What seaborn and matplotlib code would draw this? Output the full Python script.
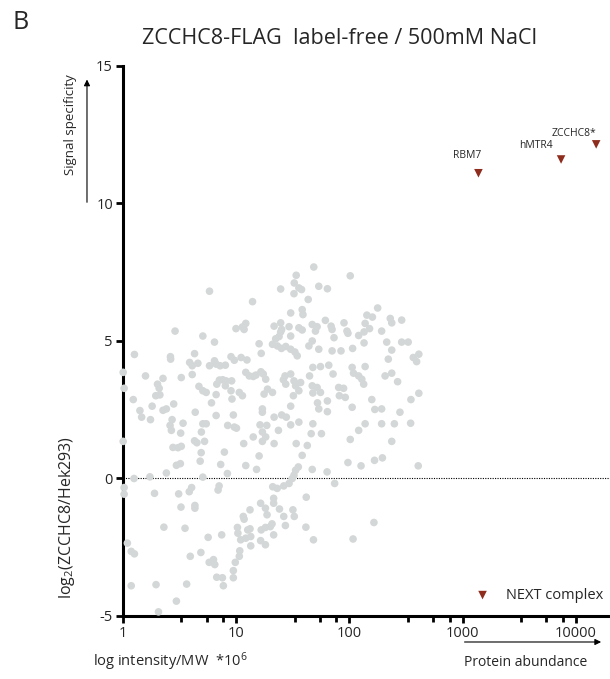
import numpy as np
import matplotlib
matplotlib.use("Agg")
import matplotlib.pyplot as plt
import seaborn as sns
from matplotlib.ticker import FixedLocator, NullFormatter

# background proteins: intensity/MW (*10^6) and log2(ZCCHC8/Hek293)
intensity = [
    48.6, 34.0, 32.7, 35.9, 37.9, 32.5, 102, 53.8, 64.1, 24.8, 5.84, 43.4, 14.0, 38.4, 39.0, 30.4,
    178, 143, 160, 89.8, 138, 61.5, 69.1, 70.5, 230, 237, 290, 24.8, 21.7, 25.3, 29.4, 35.9,
    38.4, 47.1, 52.0, 50.3, 12.2, 11.4, 10.0, 11.8, 2.90, 5.10, 6.46, 24.0, 24.8, 22.4, 30.4, 95.4,
    97.3, 121, 135, 151, 193, 73.3, 47.1, 44.0, 53.8, 70.5, 84.5, 107, 214, 290, 331, 237,
    16.0, 16.7, 21.0, 23.2, 25.2, 27.5, 30.4, 33.1, 34.7, 1.27, 2.64, 2.65, 4.31, 3.90, 4.11, 4.61,
    5.84, 6.46, 6.68, 7.24, 8.06, 9.04, 9.67, 11.1, 12.5, 367, 411, 393, 221, 65.9, 55.7, 47.7,
    106, 138, 109, 121, 129, 134, 1.01, 1.03, 1.59, 2.27, 3.29, 4.11, 2.03, 2.10, 1.96, 2.13,
    2.27, 2.43, 2.82, 4.71, 5.10, 5.46, 6.77, 7.14, 7.64, 8.17, 8.06, 9.16, 12.2, 13.1, 14.2, 15.0,
    16.6, 17.4, 18.3, 27.1, 26.2, 27.5, 30.4, 32.5, 37.2, 33.6, 44.6, 47.1, 52.0, 55.7, 71.9, 80.6,
    89.1, 92.2, 81.7, 207, 237, 267, 1.24, 1.42, 1.47, 1.76, 1.82, 2.73, 2.62, 2.69, 3.25, 3.41,
    2.78, 3.08, 3.29, 2.98, 3.23, 4.37, 4.31, 4.52, 5.28, 4.93, 4.83, 5.10, 5.10, 5.46, 6.08, 6.68,
    7.90, 8.45, 9.67, 10.1, 9.48, 9.22, 9.04, 10.7, 11.4, 11.7, 12.2, 15.2, 14.2, 16.0, 17.1, 17.1,
    16.3, 18.7, 17.1, 18.3, 17.1, 21.7, 17.7, 19.0, 21.0, 21.7, 25.3, 27.8, 30.4, 23.7, 30.4, 35.9,
    34.0, 38.4, 35.5, 33.6, 32.5, 31.4, 29.4, 42.6, 46.1, 47.7, 56.8, 52.4, 53.8, 64.1, 64.1, 47.1,
    63.7, 74.3, 47.7, 102, 121, 138, 193, 250, 348, 97.3, 127, 167, 196, 158, 193, 237,
    280, 350, 406, 1.26, 1.74, 2.43, 35.9, 32.1, 6.68, 135, 1.01, 4.95, 7.33, 8.40, 411, 106,
    168,
    # below zero
    1.03, 1.03, 1.91, 3.12, 3.87, 4.06, 6.95, 7.10, 3.27, 4.34, 4.34, 2.31, 3.55, 5.68, 7.48, 1.10,
    1.19, 1.27, 3.95, 4.90, 5.80, 6.33, 6.50, 1.19, 1.97, 3.67, 6.76, 7.59, 7.74, 2.98, 2.07, 9.48,
    9.48, 9.86, 10.7, 10.8, 10.3, 10.4, 11.6, 11.8, 13.3, 11.0, 12.2, 13.3, 13.5, 13.5, 12.7, 16.5,
    18.2, 18.8, 21.5, 21.5, 24.2, 26.4, 16.7, 18.2, 20.1, 20.8, 21.5, 16.5, 18.2, 27.3, 21.1, 23.1,
    26.4, 41.7, 31.8, 32.7, 41.4, 48.3, 108, 165,
]
log2ratio = [
    7.69, 7.39, 7.11, 6.93, 6.87, 6.72, 7.37, 6.99, 6.90, 6.89, 6.81, 6.51, 6.43, 6.14, 5.96, 6.02,
    6.20, 5.94, 5.87, 5.66, 5.64, 5.75, 5.54, 5.42, 5.82, 5.66, 5.76, 5.66, 5.54, 5.42, 5.52, 5.48,
    5.40, 5.60, 5.52, 5.36, 5.64, 5.51, 5.45, 5.42, 5.36, 5.18, 4.96, 5.16, 5.33, 5.08, 5.18, 5.36,
    5.28, 5.20, 5.33, 5.45, 5.36, 5.12, 5.00, 4.82, 4.70, 4.64, 4.64, 4.73, 4.96, 4.96, 4.96, 4.67,
    4.90, 4.55, 4.88, 4.82, 4.73, 4.80, 4.70, 4.60, 4.46, 4.51, 4.43, 4.34, 4.54, 4.22, 4.10, 4.19,
    4.10, 4.28, 4.16, 4.10, 4.12, 4.43, 4.30, 4.40, 4.31, 4.40, 4.52, 4.25, 4.34, 4.12, 4.07, 4.04,
    4.04, 4.07, 3.83, 3.73, 3.61, 3.43, 3.86, 3.28, 3.73, 3.64, 3.67, 3.78, 3.43, 3.28, 3.01, 3.04,
    2.48, 2.53, 2.71, 3.35, 3.19, 3.13, 3.43, 3.58, 3.59, 3.55, 3.37, 3.55, 3.86, 3.73, 3.71, 3.76,
    3.88, 3.80, 3.61, 3.73, 3.59, 3.43, 3.80, 3.55, 3.49, 3.37, 3.73, 3.37, 3.31, 3.13, 3.80, 3.31,
    3.28, 2.95, 3.01, 3.73, 3.83, 3.52, 2.87, 2.47, 2.23, 2.14, 2.63, 2.14, 1.93, 1.75, 1.65, 2.01,
    1.13, 1.12, 1.17, 0.48, 0.54, 2.41, 1.37, 1.30, 1.35, 0.94, 0.63, 0.05, 1.99, 1.99, 2.75, 2.29,
    0.96, 1.93, 1.87, 1.83, 2.31, 2.89, 3.19, 3.13, 3.01, 1.27, 0.47, 0.33, 1.51, 0.82, 2.53, 2.41,
    1.95, 1.93, 1.69, 1.51, 1.35, 1.27, 3.07, 3.25, 3.13, 2.23, 2.31, 2.23, 1.95, 1.75, 2.63, 2.05,
    1.27, 0.84, 0.42, 0.30, 0.12, 0.00, -0.18, 1.20, 1.63, 1.99, 1.63, 2.75, 2.53, 2.82, 2.43, 0.33,
    0.24, -0.18, 3.11, 1.42, 1.75, 1.99, 1.99, 1.99, 2.01, 0.58, 0.46, 0.66, 0.75, 2.87, 2.53, 1.35,
    2.41, 2.87, 0.46, 0.00, 0.06, 0.20, 3.19, 3.01, 3.05, 4.93, 1.35, 1.69, 0.51, 0.18, 3.10, 2.59,
    2.51,
    -0.33, -0.57, -0.54, -0.56, -0.48, -0.33, -0.42, -0.27, -1.04, -0.98, -1.08, -1.77, -1.81, -2.14, -2.05, -2.35,
    -2.65, -2.74, -2.83, -2.69, -3.05, -2.95, -3.13, -3.90, -3.86, -3.84, -3.59, -3.61, -3.90, -4.46, -4.85, -3.35,
    -3.61, -3.05, -2.83, -2.63, -1.78, -1.99, -1.38, -1.48, -1.14, -2.23, -2.17, -1.83, -2.11, -2.45, -1.87, -0.90,
    -1.08, -1.32, -0.72, -0.90, -1.11, -1.38, -1.87, -1.78, -1.75, -1.65, -2.05, -2.26, -2.41, -1.71, -0.30, -0.36,
    -0.27, -0.68, -1.14, -1.38, -1.77, -2.23, -2.20, -1.60,
]

# NEXT complex members
next_names = ["RBM7", "hMTR4", "ZCCHC8*"]
next_intensity = [1380, 7400, 15100]
next_ratio = [11.1, 11.6, 12.15]
label_offsets = [(-8, 13), (-18, 10), (-16, 8)]

x_ticks = [1, 10, 100, 1000, 10000]
y_ticks = [-5, 0, 5, 10, 15]

sns.set_style("ticks")
plt.rcParams['font.family'] = ['Open Sans', 'DejaVu Sans']
plt.rcParams['mathtext.default'] = 'regular'

grey = "#d4d7d7"
red = "#8e2c1d"

fig = plt.figure(figsize=(6.1, 6.79), dpi=100)
ax = fig.add_axes([0.2011, 0.0928, 0.7989, 0.81])

sns.scatterplot(x=intensity, y=log2ratio, color=grey, s=30, edgecolor="none", linewidth=0,
                ax=ax, zorder=3, clip_on=False)
sns.scatterplot(x=next_intensity, y=next_ratio, marker="v", color=red, s=38, edgecolor="none",
                linewidth=0, ax=ax, zorder=4)

for name, xv, yv, off in zip(next_names, next_intensity, next_ratio, label_offsets):
    ax.annotate(name, (xv, yv), xytext=off, textcoords="offset points", ha="center", va="center",
                fontsize=7.5)

# legend-like entry
sns.scatterplot(x=[1500], y=[-4.24], marker="v", color=red, s=38, edgecolor="none", linewidth=0,
                ax=ax, zorder=4)
ax.text(2400, -4.24, "NEXT complex", fontsize=10.5, va="center", ha="left")

ax.axhline(0, color="black", lw=0.8, ls=(0, (1, 1.2)), zorder=2)

ax.set_xscale("log")
ax.set_xlim(1, 20000)
ax.set_ylim(-5, 15)
ax.set_xticks(x_ticks)
ax.set_xticklabels([str(t) for t in x_ticks])
minor = [m * 10 ** k for k in range(0, 5) for m in (3.3, 5.5, 7.7)]
ax.xaxis.set_minor_locator(FixedLocator([v for v in minor if v < 20000]))
ax.xaxis.set_minor_formatter(NullFormatter())
ax.set_yticks(y_ticks)
ax.set_yticklabels([str(t) for t in y_ticks])

for s in ["top", "right"]:
    ax.spines[s].set_visible(False)
for s in ["left", "bottom"]:
    ax.spines[s].set_linewidth(2.2)
    ax.spines[s].set_color("black")
    ax.spines[s].set_zorder(2.5)
ax.tick_params(axis="both", which="major", length=5, width=2, labelsize=10.5, pad=2, color="black")
ax.tick_params(axis="x", which="minor", length=4, width=2, color="black")

fig.text(0.020, 0.967, "B", fontsize=18, va="center", ha="left")
fig.text(0.5566, 0.944, "ZCCHC8-FLAG  label-free / 500mM NaCl", fontsize=15.5, ha="center", va="center")

fig.text(0.115, 0.816, "Signal specificity", rotation=90, fontsize=9.5, ha="center", va="center")
ax.annotate("", xy=(0.1426, 0.887), xytext=(0.1426, 0.698), xycoords="figure fraction",
            arrowprops=dict(arrowstyle="-|>", color="black", lw=0.8, mutation_scale=9))
fig.text(0.11, 0.238, "log$_2$(ZCCHC8/Hek293)", rotation=90, fontsize=11.5, ha="center", va="center")

fig.text(0.152, 0.025, "log intensity/MW  *10$^6$", fontsize=10.5, ha="left", va="center")
fig.text(0.861, 0.025, "Protein abundance", fontsize=10, ha="center", va="center")
ax.annotate("", xy=(0.99, 0.0545), xytext=(0.757, 0.0545), xycoords="figure fraction",
            arrowprops=dict(arrowstyle="-|>", color="black", lw=0.8, mutation_scale=9))

fig.savefig("out.png", dpi=100)
